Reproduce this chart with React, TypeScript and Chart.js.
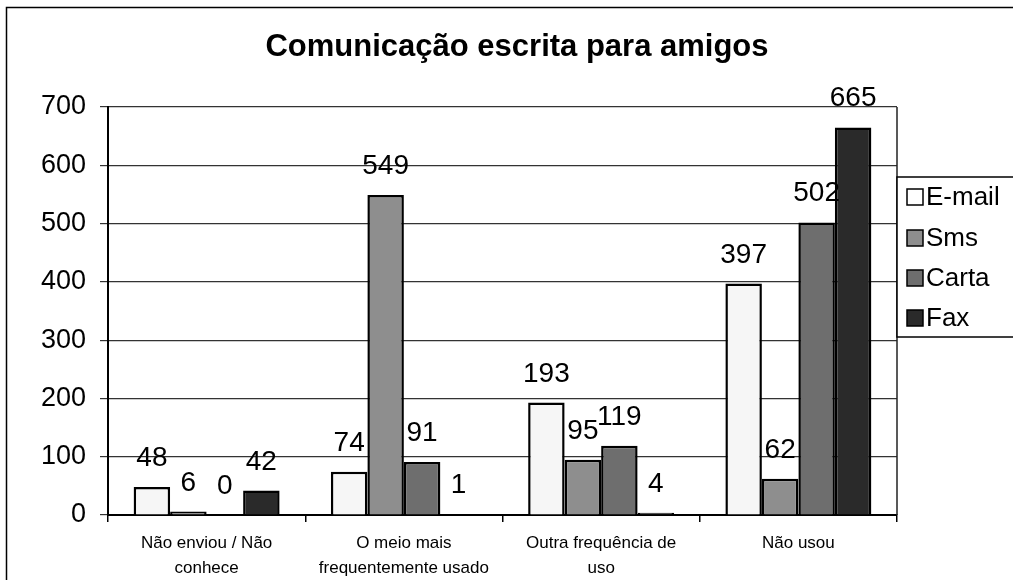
import React, { useEffect, useRef } from 'react';
import { Chart, registerables } from 'chart.js';

Chart.register(...registerables);

const chartTitle = 'Comunicação escrita para amigos';
const categories: string[][] = [
  ['Não enviou / Não', 'conhece'],
  ['O meio mais', 'frequentemente usado'],
  ['Outra frequência de', 'uso'],
  ['Não usou'],
];
const seriesNames = ['E-mail', 'Sms', 'Carta', 'Fax'];
const emailValues = [48, 74, 193, 397];
const smsValues = [6, 549, 95, 62];
const cartaValues = [0, 91, 119, 502];
const faxValues = [42, 1, 4, 665];
const yMin = 0;
const yMax = 700;
const yStep = 100;

const seriesColors = ['#f6f6f6', '#8e8e8e', '#6e6e6e', '#2a2a2a'];
const FONT = '"Liberation Sans", Arial, sans-serif';

const valueLabelPlugin = {
  id: 'valueLabels',
  afterDatasetDraw(chart: any, args: any) {
    const ctx = chart.ctx;
    const meta = args.meta;
    const ds = chart.data.datasets[args.index];
    ctx.save();
    ctx.font = `28px ${FONT}`;
    ctx.fillStyle = '#000';
    ctx.textAlign = 'center';
    ctx.textBaseline = 'alphabetic';
    meta.data.forEach((el: any, i: number) => {
      ctx.fillText(String(ds.data[i]), el.x, el.y - 21);
    });
    ctx.restore();
  },
};

const decorPlugin = {
  id: 'decor',
  afterDraw(chart: any) {
    const ctx = chart.ctx;
    const area = chart.chartArea;
    ctx.save();
    // plot right border
    ctx.strokeStyle = '#222';
    ctx.lineWidth = 1.5;
    ctx.beginPath();
    ctx.moveTo(area.right, area.top);
    ctx.lineTo(area.right, area.bottom);
    ctx.stroke();
    // title
    ctx.fillStyle = '#000';
    ctx.font = `bold 31px ${FONT}`;
    ctx.textAlign = 'center';
    ctx.textBaseline = 'alphabetic';
    ctx.fillText(chartTitle, 517, 56);
    // legend box
    const lx = area.right;
    const ly = 177;
    const lw = 125;
    const lh = 160;
    ctx.fillStyle = '#fff';
    ctx.fillRect(lx, ly, lw, lh);
    ctx.strokeStyle = '#000';
    ctx.lineWidth = 1.5;
    ctx.strokeRect(lx, ly, lw, lh);
    const rowY = [197, 238, 278, 318];
    ctx.font = `26px ${FONT}`;
    ctx.textAlign = 'left';
    ctx.textBaseline = 'middle';
    seriesNames.forEach((name, i) => {
      const y = rowY[i];
      ctx.fillStyle = i === 0 ? '#fff' : seriesColors[i];
      ctx.fillRect(lx + 10, y - 8, 16, 16);
      ctx.strokeStyle = '#000';
      ctx.lineWidth = 1.5;
      ctx.strokeRect(lx + 10, y - 8, 16, 16);
      ctx.fillStyle = '#000';
      ctx.fillText(name, lx + 29, y + 1);
    });
    // outer frame (right and bottom edges lie beyond the picture)
    ctx.strokeStyle = '#000';
    ctx.lineWidth = 1.5;
    ctx.strokeRect(6.5, 7.5, 1020, 590);
    ctx.restore();
  },
};

export default function App() {
  const canvasRef = useRef<HTMLCanvasElement | null>(null);

  useEffect(() => {
    const canvas = canvasRef.current;
    if (!canvas) return;
    const values = [emailValues, smsValues, cartaValues, faxValues];
    const chart = new Chart(canvas, {
      type: 'bar',
      data: {
        labels: categories,
        datasets: seriesNames.map((name, i) => ({
          label: name,
          data: values[i],
          backgroundColor: seriesColors[i],
          borderColor: '#000',
          borderWidth: 2.5,
          categoryPercentage: 0.74,
          barPercentage: 1.0,
        })),
      },
      options: {
        responsive: false,
        animation: false,
        layout: { padding: { left: 0, right: 116, top: 107, bottom: 0 } },
        plugins: {
          legend: { display: false },
          title: { display: false },
          tooltip: { enabled: false },
        },
        scales: {
          x: {
            grid: {
              offset: true,
              drawOnChartArea: false,
              drawTicks: true,
              tickLength: 7,
              color: '#000',
              lineWidth: 1.5,
            },
            border: { display: true, color: '#000', width: 2 },
            ticks: {
              color: '#000',
              font: { family: FONT, size: 17, lineHeight: 1.45 },
              padding: 9,
              maxRotation: 0,
              autoSkip: false,
            },
            afterFit(scale: any) {
              scale.height = 65;
            },
          },
          y: {
            min: yMin,
            max: yMax,
            ticks: {
              stepSize: yStep,
              color: '#000',
              font: { family: FONT, size: 27 },
              padding: 14,
            },
            grid: {
              color: '#333',
              lineWidth: 1.2,
              tickLength: 8,
              drawTicks: true,
            },
            border: { display: true, color: '#000', width: 2 },
            afterFit(scale: any) {
              scale.width = 108;
            },
          },
        },
      },
      plugins: [valueLabelPlugin, decorPlugin],
    });
    return () => chart.destroy();
  }, []);

  return (
    <div style={{ position: 'absolute', left: 0, top: 0, width: 1013, height: 580, background: '#fff' }}>
      <canvas ref={canvasRef} width={1013} height={580} style={{ display: 'block' }} />
    </div>
  );
}
